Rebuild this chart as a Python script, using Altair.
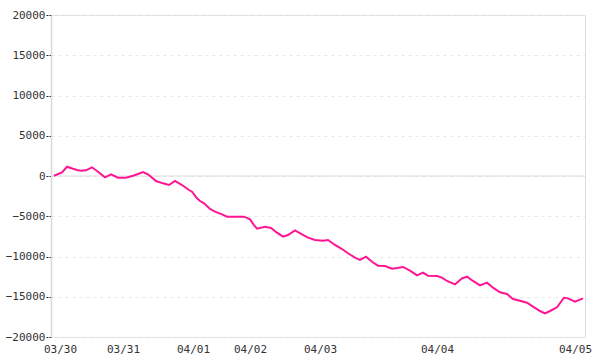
import altair as alt
import pandas as pd

# sample index (time-ordered trading samples) and cumulative value
t = [1, 9, 14, 20, 24, 28, 33, 39, 44, 52, 58, 65, 73, 80, 85, 90, 95, 103, 110, 116, 122, 129, 136,
     139, 144, 147, 151, 157, 162, 169, 174, 191, 197, 201, 204, 212, 218, 224, 230, 235, 242, 249, 255, 262,
     270, 275, 282, 289, 295, 302, 307, 313, 319, 325, 332, 339, 344, 350, 357, 364, 370, 375, 384, 389,
     394, 402, 409, 414, 420, 427, 434, 440, 447, 454, 460, 467, 474, 480, 487, 492, 497, 504, 511, 515, 522, 530]
v = [30, 460, 1150, 900, 750, 650, 700, 1080, 620, -160, 210, -210, -210, 40, 250, 500, 210, -620, -910, -1120, -620, -1120, -1740,
     -1950, -2770, -3110, -3390, -4100, -4430, -4760, -5050, -5050, -5380, -6090, -6550, -6300, -6460, -7040, -7540, -7330, -6750, -7240, -7660, -7950,
     -8040, -7950, -8570, -9070, -9600, -10150, -10430, -10020, -10650, -11140, -11180, -11510, -11430, -11300, -11760, -12340, -12010, -12380, -12420, -12630,
     -13040, -13460, -12710, -12510, -13040, -13580, -13250, -13870, -14450, -14660, -15280, -15490, -15740, -16230, -16770, -17060, -16770, -16310, -15120, -15200, -15610, -15200]

day_pos = [7, 70, 140, 197, 267, 384, 522]
day_labels = ["03/30", "03/31", "04/01", "04/02", "04/03", "04/04", "04/05"]
y_ticks = [-20000, -15000, -10000, -5000, 0, 5000, 10000, 15000, 20000]

df = pd.DataFrame({"t": t, "v": v})

expr = "''"
for p, lab in reversed(list(zip(day_pos, day_labels))):
    expr = f"datum.value == {p} ? '{lab}' : ({expr})"

FONT = "DejaVu Sans Mono"

line = alt.Chart(df).mark_line(color="#ff1493", strokeWidth=2).encode(
    x=alt.X("t:Q", scale=alt.Scale(domain=[-2, 532], nice=False, zero=False),
            axis=alt.Axis(values=day_pos, labelExpr=expr, title=None, domain=False, ticks=False,
                          grid=False, labelFont=FONT, labelFontSize=11, labelColor="#333",
                          labelPadding=6, labelFlush=False, labelOverlap=False)),
    y=alt.Y("v:Q", scale=alt.Scale(domain=[-20000, 20000], nice=False),
            axis=alt.Axis(values=y_ticks, format="d",
                          title=None, domain=True, domainColor="#d8d8d8", domainWidth=1.5,
                          ticks=True, tickColor="#222", tickSize=5, tickOffset=0,
                          tickDash=[2, 1], grid=True, gridColor="#e6e6e6", gridDash=[3, 4],
                          labelFont=FONT, labelFontSize=11, labelColor="#333", labelPadding=1)),
)

zero = alt.Chart(pd.DataFrame({"z": [0]})).mark_rule(color="#dcdcdc", strokeWidth=1).encode(y="z:Q")

chart = alt.layer(zero, line).properties(
    width=534, height=322,
    autosize=alt.AutoSizeParams(type="none"),
    padding={"left": 51, "top": 15, "right": 15, "bottom": 23},
).configure_view(stroke=None).configure(background="white")

chart.save("out.html", embed_options={"renderer": "svg", "actions": False})
